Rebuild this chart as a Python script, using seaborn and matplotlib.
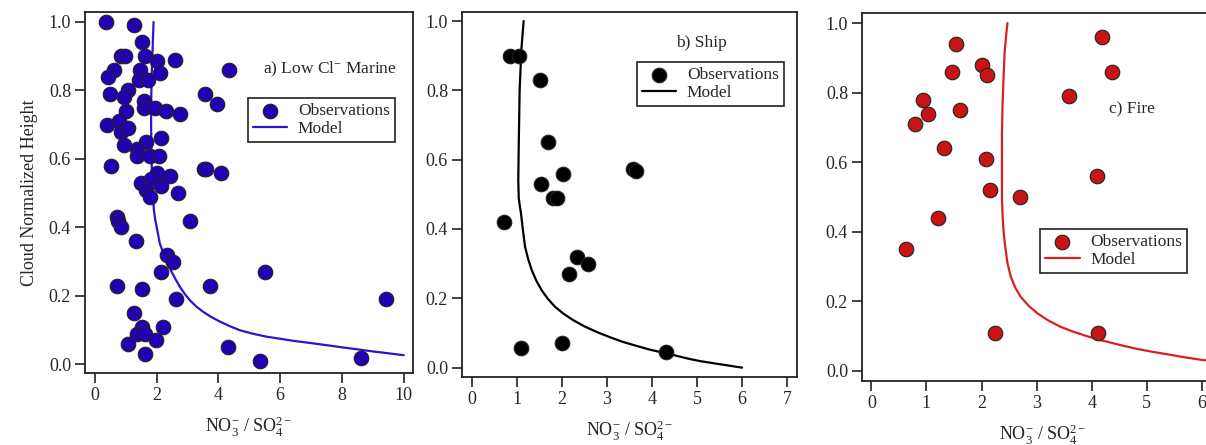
import numpy as np
import pandas as pd
import matplotlib
matplotlib.use('Agg')
import matplotlib.pyplot as plt
import seaborn as sns

# Observations
marine_x = [0.35, 1.27, 1.53, 0.86, 0.99, 1.62, 2.00, 2.59, 4.34, 0.62, 0.43, 1.46, 2.10, 1.42, 1.73,
            1.08, 0.48, 0.94, 3.56, 3.97, 1.60, 1.60, 1.94, 2.30, 2.75, 1.02, 0.38, 0.78, 0.84, 1.06,
            1.67, 2.13, 0.95, 1.35, 1.35, 1.78, 2.07, 0.51, 3.53, 3.61, 4.08, 2.00, 2.43, 1.49, 1.83,
            2.14, 1.67, 1.78, 2.70, 0.70, 0.74, 0.84, 1.32, 3.07, 2.32, 2.53, 2.14, 5.52, 0.71, 1.54,
            3.74, 2.62, 9.44, 1.27, 1.51, 2.22, 1.35, 1.62, 1.06, 1.98, 1.62, 4.31, 5.36, 8.61]
marine_y = [1.00, 0.99, 0.94, 0.90, 0.90, 0.90, 0.885, 0.89, 0.86, 0.86, 0.84, 0.86, 0.85, 0.83, 0.83,
            0.80, 0.79, 0.78, 0.79, 0.76, 0.77, 0.75, 0.75, 0.74, 0.73, 0.74, 0.70, 0.71, 0.68, 0.69,
            0.65, 0.66, 0.64, 0.63, 0.61, 0.61, 0.61, 0.58, 0.57, 0.57, 0.56, 0.56, 0.55, 0.53, 0.54,
            0.52, 0.51, 0.49, 0.50, 0.43, 0.42, 0.40, 0.36, 0.42, 0.32, 0.30, 0.27, 0.27, 0.23, 0.22,
            0.23, 0.19, 0.19, 0.15, 0.11, 0.11, 0.09, 0.09, 0.06, 0.07, 0.03, 0.05, 0.01, 0.02]

ship_x = [0.85, 1.05, 1.52, 1.70, 2.03, 1.54, 1.80, 1.90, 0.72, 2.33, 2.57, 2.16, 3.58, 3.64, 1.09, 2.00, 4.32]
ship_y = [0.90, 0.90, 0.83, 0.65, 0.56, 0.53, 0.49, 0.49, 0.42, 0.32, 0.30, 0.27, 0.573, 0.568, 0.057, 0.071, 0.045]

fire_x = [1.53, 1.46, 2.00, 2.10, 0.94, 1.03, 0.79, 1.61, 1.31, 2.08, 2.16, 2.70, 1.21, 0.63, 2.24,
          4.18, 4.37, 3.58, 4.09, 4.12]
fire_y = [0.94, 0.86, 0.88, 0.85, 0.78, 0.74, 0.71, 0.75, 0.64, 0.61, 0.52, 0.50, 0.44, 0.35, 0.11,
          0.96, 0.86, 0.79, 0.56, 0.11]

# Model curves
marine_model_x = [1.90, 1.88, 1.86, 1.84, 1.83, 1.82, 1.82, 1.83, 1.85, 1.88, 1.91, 1.95, 2.00, 2.05,
                  2.10, 2.18, 2.27, 2.37, 2.48, 2.61, 2.75, 2.90, 3.07, 3.27, 3.50, 3.76, 4.05, 4.36,
                  4.69, 5.10, 5.56, 6.00, 6.42, 6.85, 7.28, 8.00, 9.00, 10.00]
marine_model_y = [1.00, 0.95, 0.90, 0.85, 0.80, 0.75, 0.70, 0.62, 0.55, 0.50, 0.451, 0.425, 0.402, 0.378,
                  0.354, 0.334, 0.315, 0.292, 0.271, 0.249, 0.227, 0.207, 0.188, 0.170, 0.154, 0.139, 0.125, 0.112,
                  0.100, 0.090, 0.081, 0.075, 0.069, 0.064, 0.059, 0.050, 0.038, 0.027]

ship_model_x = [1.15, 1.13, 1.10, 1.08, 1.06, 1.05, 1.04, 1.03, 1.04, 1.06, 1.09, 1.13, 1.18, 1.25,
                1.33, 1.43, 1.55, 1.69, 1.85, 2.04, 2.25, 2.50, 2.77, 3.06, 3.36, 3.65, 3.95, 4.25,
                4.55, 4.80, 5.06, 5.50, 6.00]
ship_model_y = [1.00, 0.97, 0.92, 0.86, 0.80, 0.72, 0.64, 0.54, 0.49, 0.47, 0.445, 0.40, 0.349, 0.313,
                0.281, 0.251, 0.223, 0.198, 0.175, 0.155, 0.137, 0.119, 0.103, 0.088, 0.074, 0.063, 0.052, 0.043,
                0.034, 0.026, 0.019, 0.010, 0.0]

fire_model_x = [2.47, 2.45, 2.42, 2.40, 2.38, 2.37, 2.37, 2.37, 2.38, 2.40, 2.43, 2.47, 2.53, 2.61,
                2.71, 2.85, 3.01, 3.20, 3.43, 3.66, 3.91, 4.20, 4.50, 4.80, 5.10, 5.40, 5.69, 5.98, 6.30]
fire_model_y = [1.00, 0.97, 0.92, 0.85, 0.76, 0.68, 0.60, 0.50, 0.453, 0.40, 0.357, 0.31, 0.271, 0.240,
                0.213, 0.188, 0.166, 0.146, 0.127, 0.113, 0.100, 0.087, 0.075, 0.064, 0.055, 0.047, 0.039, 0.032, 0.027]

sns.set_style('ticks')
plt.rcParams['font.family'] = ['Liberation Serif', 'DejaVu Serif']
plt.rcParams['mathtext.fontset'] = 'custom'
plt.rcParams['mathtext.rm'] = 'Liberation Serif'
plt.rcParams['mathtext.it'] = 'Liberation Serif:italic'
plt.rcParams['mathtext.bf'] = 'Liberation Serif:bold'

fig = plt.figure(figsize=(12.06, 4.45), dpi=100)
ax_a = fig.add_axes([85 / 1206, 1 - 373 / 445, 328 / 1206, 361 / 445])
ax_b = fig.add_axes([462 / 1206, 1 - 377 / 445, 335 / 1206, 365 / 445])
ax_c = fig.add_axes([862 / 1206, 1 - 381 / 445, 362 / 1206, 368 / 445])

panels = [
    (ax_a, marine_x, marine_y, marine_model_x, marine_model_y, '#2200B4', '#2A14D0',
     r'a) Low Cl$^{-}$ Marine', (0.747, 0.842), (0.945, 0.762), (-0.32, 10.3), (-0.025, 1.029), [0, 2, 4, 6, 8, 10]),
    (ax_b, ship_x, ship_y, ship_model_x, ship_model_y, '#000000', '#000000',
     'b) Ship', (0.716, 0.915), (0.961, 0.863), (-0.22, 7.22), (-0.027, 1.026), [0, 1, 2, 3, 4, 5, 6, 7]),
    (ax_c, fire_x, fire_y, fire_model_x, fire_model_y, '#C81414', '#D82020',
     'c) Fire', (0.746, 0.739), (0.898, 0.413), (-0.17, 6.4), (-0.029, 1.029), [0, 1, 2, 3, 4, 5, 6]),
]

for ax, ox, oy, mx, my, mcol, lcol, title, tpos, lpos, xlim, ylim, xticks in panels:
    obs = pd.DataFrame({'x': ox, 'y': oy})
    mod = pd.DataFrame({'x': mx, 'y': my})
    sns.lineplot(data=mod, x='x', y='y', sort=False, estimator=None, color=lcol, linewidth=1.6,
                 ax=ax, label='Model', zorder=2)
    sns.scatterplot(data=obs, x='x', y='y', color=mcol, s=110, edgecolor='#222222', linewidth=0.8,
                    ax=ax, label='Observations', zorder=3)
    ax.set_xlim(*xlim)
    ax.set_ylim(*ylim)
    ax.set_xticks(xticks)
    ax.set_yticks([0.0, 0.2, 0.4, 0.6, 0.8, 1.0])
    ax.set_yticklabels(['0.0', '0.2', '0.4', '0.6', '0.8', '1.0'])
    ax.tick_params(direction='out', length=7.5, width=1.2, labelsize=13, pad=2.5, color='#222222')
    for sp in ax.spines.values():
        sp.set_visible(True)
        sp.set_linewidth(1.3)
        sp.set_color('#222222')
    ax.set_xlabel(r'NO$_3^{-}$ / SO$_4^{2-}$', fontsize=13, labelpad=8)
    ax.set_ylabel('')
    ax.text(tpos[0], tpos[1], title, transform=ax.transAxes, ha='center', va='center', fontsize=12.5)
    handles, labels = ax.get_legend_handles_labels()
    order = [labels.index('Observations'), labels.index('Model')]
    leg = ax.legend([handles[i] for i in order], [labels[i] for i in order],
                    loc='upper right', bbox_to_anchor=lpos, borderaxespad=0, fontsize=12.5,
                    fancybox=False, framealpha=1, edgecolor='#222222', handlelength=2.0,
                    handletextpad=0.6, borderpad=0.3, labelspacing=0.1)
    leg.get_frame().set_linewidth(1.2)

ax_a.set_ylabel('Cloud Normalized Height', fontsize=13, labelpad=8)

fig.savefig('out.png', dpi=100)
